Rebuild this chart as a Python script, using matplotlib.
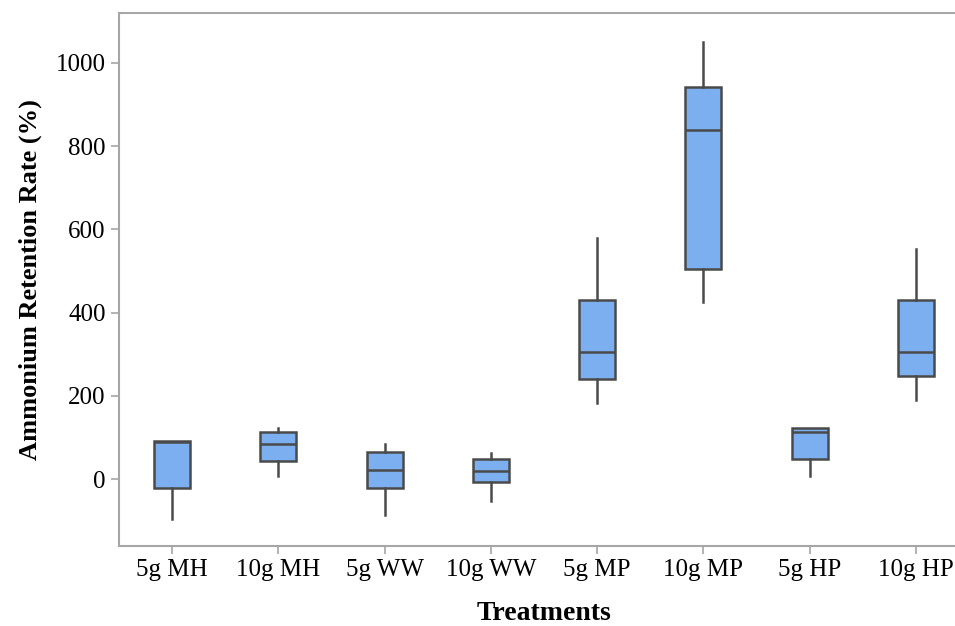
import matplotlib
matplotlib.use("Agg")
import matplotlib.pyplot as plt
import numpy as np

# box statistics (Ammonium retention rate, %)
treatments = ["5g MH", "10g MH", "5g WW", "10g WW", "5g MP", "10g MP", "5g HP", "10g HP"]
whisker_low = [-95, 8, -87, -53, 182, 425, 8, 190]
q1 = [-22, 43, -22, -8, 240, 505, 47, 248]
median = [88, 83, 22, 19, 305, 840, 113, 305]
q3 = [92, 113, 66, 48, 430, 943, 122, 430]
whisker_high = [92, 122, 85, 63, 579, 1051, 122, 553]

yticks = [0, 200, 400, 600, 800, 1000]

BOX = "#7BAFEF"
EDGE = "#4a4a4a"
SPINE = "#a6a6a6"

plt.rcParams["font.family"] = ["Liberation Serif", "DejaVu Serif"]

fig = plt.figure(figsize=(9.55, 6.26), dpi=100)
ax = fig.add_axes([119 / 955, 80 / 626, 850 / 955, 533 / 626])

stats = []
for i, name in enumerate(treatments):
    stats.append(dict(label=name, whislo=whisker_low[i], q1=q1[i], med=median[i],
                      q3=q3[i], whishi=whisker_high[i], fliers=[]))

pos = np.arange(len(treatments))
ax.bxp(stats, positions=pos, widths=0.34, patch_artist=True, showcaps=False,
       boxprops=dict(facecolor=BOX, edgecolor=EDGE, linewidth=1.8),
       medianprops=dict(color=EDGE, linewidth=1.8),
       whiskerprops=dict(color=EDGE, linewidth=1.8))

ax.set_xlim(-0.5, 7.5)
ax.set_ylim(-161, 1120)
ax.set_yticks(yticks)
ax.set_xticks(pos)
ax.set_xticklabels(treatments)

ax.spines["right"].set_visible(False)
for s in ax.spines.values():
    s.set_color(SPINE)
    s.set_linewidth(1.5)
ax.tick_params(colors=SPINE, labelcolor="black", labelsize=18, length=6, width=1.2)

ax.set_ylabel("Ammonium Retention Rate (%)", fontsize=19, fontweight="bold", labelpad=10)
ax.set_xlabel("Treatments", fontsize=20, fontweight="bold", labelpad=14)

fig.savefig("out.png", dpi=100)
